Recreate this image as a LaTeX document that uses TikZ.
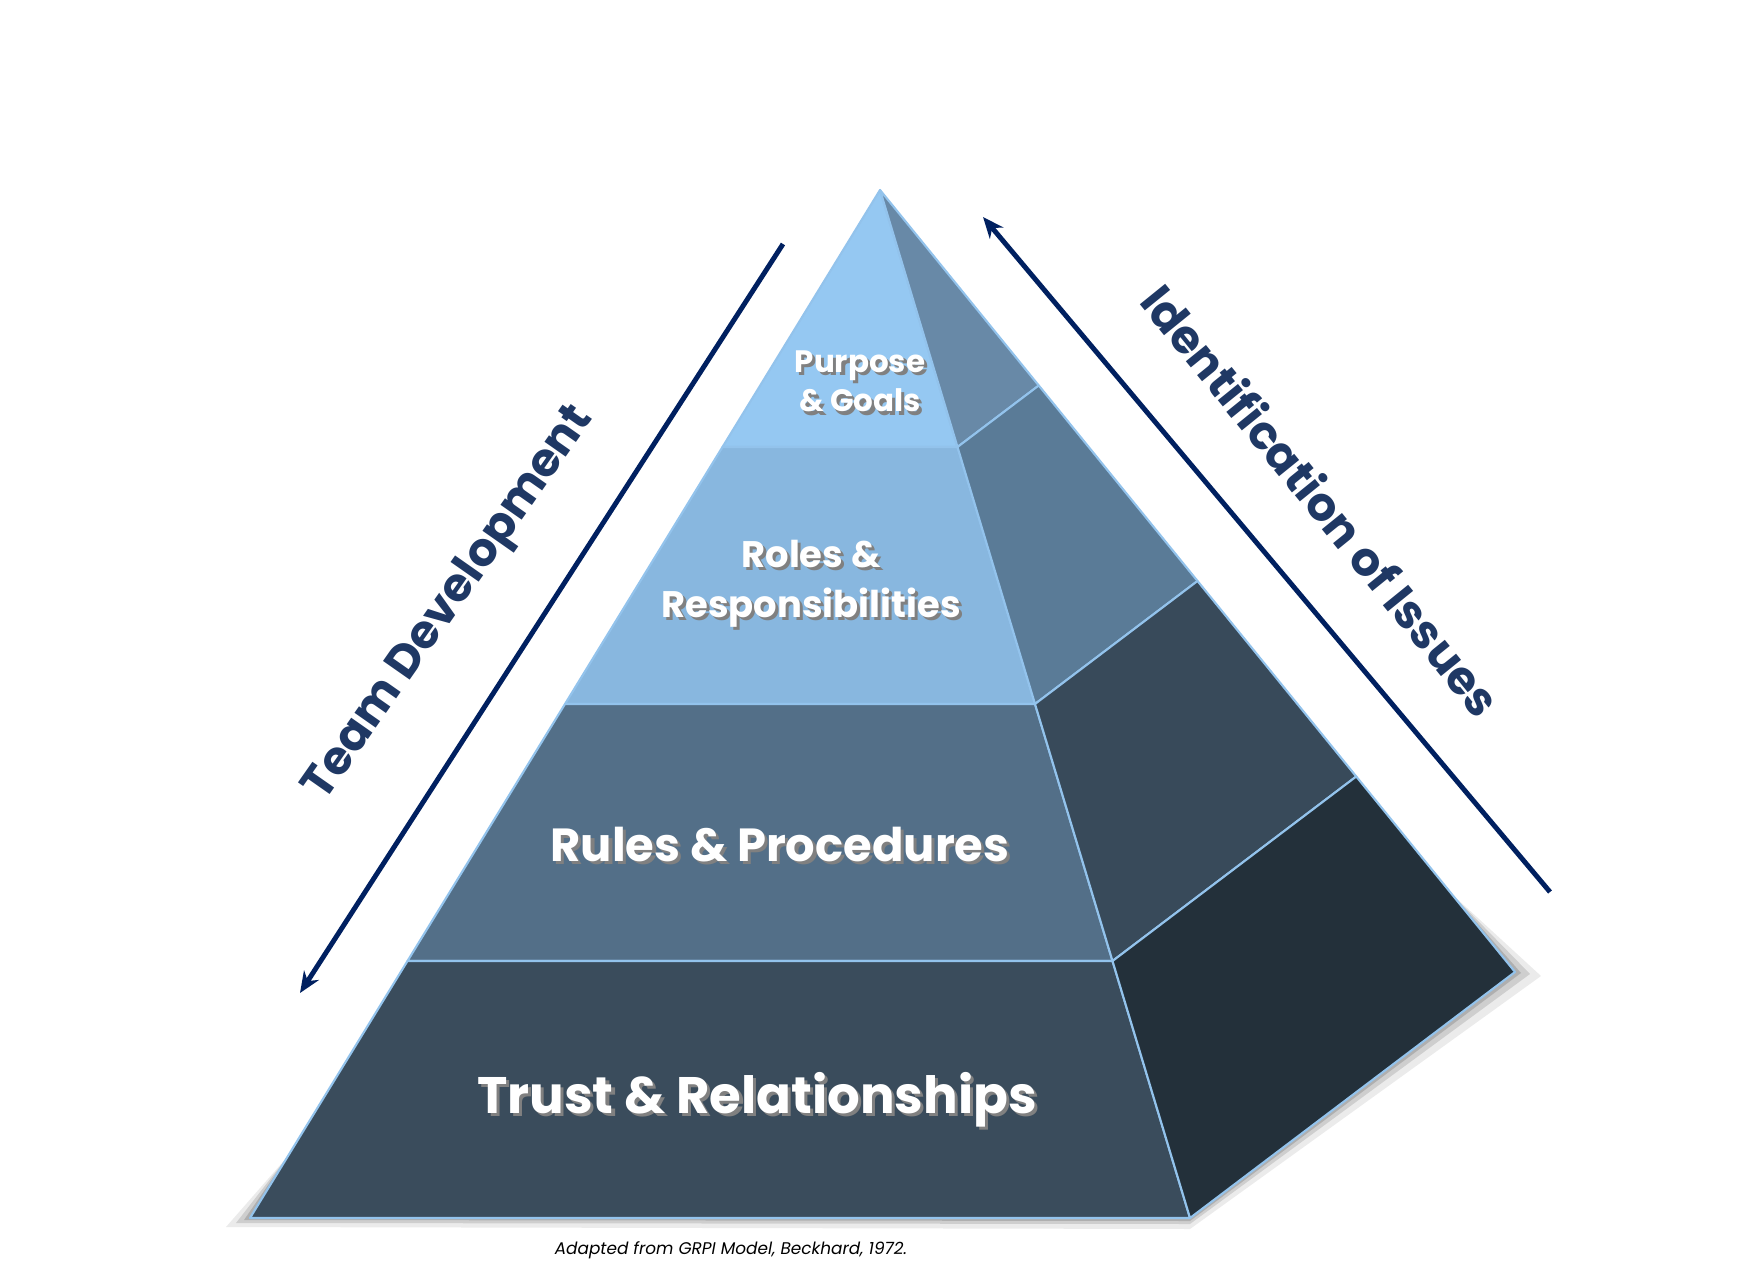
\documentclass[tikz,border=0pt]{standalone}
\usepackage{fontspec}
\setmainfont{Poppins}
\usetikzlibrary{arrows.meta,calc}

\definecolor{frontA}{HTML}{95C8F2}
\definecolor{frontB}{HTML}{88B7DF}
\definecolor{frontC}{HTML}{536F88}
\definecolor{frontD}{HTML}{3A4C5C}
\definecolor{sideA}{HTML}{6889A7}
\definecolor{sideB}{HTML}{5A7B97}
\definecolor{sideC}{HTML}{384A5A}
\definecolor{sideD}{HTML}{23303A}
\definecolor{edgeblue}{HTML}{93C3EC}
\definecolor{navy}{HTML}{002060}
\definecolor{labelnavy}{HTML}{1F3864}

% white text with a soft dark shadow
\newcommand{\shtext}[1]{\makebox[0pt][l]{\hspace{0.9pt}\raisebox{-0.9pt}{\textcolor{black!50}{#1}}}#1}

\begin{document}
\begin{tikzpicture}[
    x=0.01cm, y=0.01cm,
    face/.style={
        draw=edgeblue,
        line width=0.6pt,
        line join=round
    },
    level/.style={
        text=white,
        font=\bfseries,
        align=center,
        anchor=base
    },
    side/.style={
        text=labelnavy,
        font=\bfseries\fontsize{13.2}{15}\selectfont
    },
    arr/.style={-{Stealth[length=6pt,width=5pt]}, navy, line width=1.4pt}
]

    \useasboundingbox (0,0) rectangle (1764,1284);

    % corners of the pyramid
    \coordinate (top) at (880,1094);
    \coordinate (bl) at (250,66);
    \coordinate (br) at (1190,66);
    \coordinate (bk) at (1515,312);

    % level boundaries
    \coordinate (fl1) at ($(top)!0.25!(bl)$);
    \coordinate (fl2) at ($(top)!0.50!(bl)$);
    \coordinate (fl3) at ($(top)!0.75!(bl)$);
    \coordinate (fr1) at ($(top)!0.25!(br)$);
    \coordinate (fr2) at ($(top)!0.50!(br)$);
    \coordinate (fr3) at ($(top)!0.75!(br)$);
    \coordinate (sk1) at ($(top)!0.25!(bk)$);
    \coordinate (sk2) at ($(top)!0.50!(bk)$);
    \coordinate (sk3) at ($(top)!0.75!(bk)$);

    % shadow under the base
    \coordinate (shl) at ($(bl)!0.06!(top)$);
    \coordinate (shr) at ($(bk)!0.10!(top)$);
    \fill[black, opacity=0.08] ($(bl)+(-24,-9)$) -- ($(br)+(0,-11)$) -- ($(bk)+(26,-4)$) -- (shr) -- (shl) -- cycle;
    \fill[black, opacity=0.12] ($(bl)+(-14,-5)$) -- ($(br)+(0,-6)$) -- ($(bk)+(15,-2)$) -- (shr) -- (shl) -- cycle;
    \fill[black, opacity=0.15] ($(bl)+(-6,-2)$) -- ($(br)+(0,-3)$) -- ($(bk)+(6,-1)$) -- (shr) -- (shl) -- cycle;

    % front face
    \filldraw[face, fill=frontA] (top) -- (fl1) -- (fr1) -- cycle;
    \filldraw[face, fill=frontB] (fl1) -- (fl2) -- (fr2) -- (fr1) -- cycle;
    \filldraw[face, fill=frontC] (fl2) -- (fl3) -- (fr3) -- (fr2) -- cycle;
    \filldraw[face, fill=frontD] (fl3) -- (bl) -- (br) -- (fr3) -- cycle;

    % right face
    \filldraw[face, fill=sideA] (top) -- (fr1) -- (sk1) -- cycle;
    \filldraw[face, fill=sideB] (fr1) -- (fr2) -- (sk2) -- (sk1) -- cycle;
    \filldraw[face, fill=sideC] (fr2) -- (fr3) -- (sk3) -- (sk2) -- cycle;
    \filldraw[face, fill=sideD] (fr3) -- (br) -- (bk) -- (sk3) -- cycle;

    % level labels (base = last line)
    \node[level, font=\bfseries\fontsize{8.8}{11.3}\selectfont] (purpose) at (860,872)
        {\shtext{Purpose}\\\shtext{\& Goals}};
    \node[level, font=\bfseries\fontsize{10.5}{14.2}\selectfont] (roles) at (811,667)
        {\shtext{Roles \&}\\\shtext{Responsibilities}};
    \node[level, font=\bfseries\fontsize{13.2}{16}\selectfont] (rules) at (780,423)
        {\shtext{Rules \& Procedures}};
    \node[level, font=\bfseries\fontsize{14.6}{18}\selectfont] (trust) at (757,171)
        {\shtext{Trust \& Relationships}};

    % side arrows
    \coordinate (devstart) at (783,1040);
    \coordinate (devend) at (300,291);
    \coordinate (issstart) at (1550,392);
    \coordinate (issend) at (983,1067);
    \draw[arr] (devstart) -- (devend);
    \draw[arr] (issstart) -- (issend);

    \node[side, rotate=55] (teamdev) at (450,680) {Team Development};
    \node[side, rotate=-51] (issues) at (1322,784) {Identification of Issues};

    % source
    \node[font=\itshape\fontsize{4.8}{6}\selectfont] (source) at (731,34)
        {Adapted from GRPI Model, Beckhard, 1972.};

\end{tikzpicture}
\end{document}
